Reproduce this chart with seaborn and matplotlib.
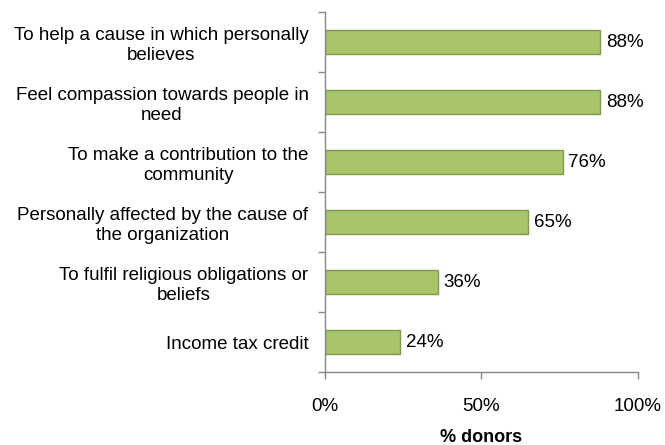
import matplotlib
matplotlib.use("Agg")
import matplotlib.pyplot as plt
import seaborn as sns
import pandas as pd
import numpy as np
from matplotlib.ticker import FixedLocator

categories = [
    "To help a cause in which personally\nbelieves",
    "Feel compassion towards people in\nneed",
    "To make a contribution to the\ncommunity",
    "Personally affected by the cause of\nthe organization",
    "To fulfil religious obligations or\nbeliefs",
    "Income tax credit",
]
values = [88, 88, 76, 65, 36, 24]
xticks = [0, 50, 100]
xtick_labels = ["0%", "50%", "100%"]

sns.set_style("white")
plt.rcParams['font.family'] = ['Liberation Sans', 'DejaVu Sans']
plt.rcParams['text.color'] = 'black'
plt.rcParams['xtick.color'] = 'black'
plt.rcParams['ytick.color'] = 'black'
plt.rcParams['axes.labelcolor'] = 'black'

FS = 13.5

df = pd.DataFrame({"cat": categories, "val": values})

fig = plt.figure(figsize=(6.65, 4.45), dpi=100)
ax = fig.add_axes([0.489, 0.164, 0.470, 0.809])
sns.barplot(data=df, x="val", y="cat", orient="h", color="#A9C56C",
            edgecolor="#7D9C45", linewidth=1.0, width=0.4, saturation=1, ax=ax)

ax.set_xlim(0, 100)
ax.set_ylim(len(categories) - 0.5, -0.5)
ax.set_xticks(xticks)
ax.set_xticklabels(xtick_labels, fontsize=FS)
ax.set_xlabel("% donors", fontsize=FS - 0.5, fontweight="bold", labelpad=10)
ax.set_ylabel("")
ax.set_yticks(range(len(categories)))
ax.set_yticklabels(categories, fontsize=FS, ha="right", multialignment="center",
                   linespacing=1.25)
ax.tick_params(axis="y", which="major", length=0, pad=12)
ax.yaxis.set_minor_locator(FixedLocator(np.arange(-0.5, len(categories), 1.0)))
ax.tick_params(axis="y", which="minor", length=5, color="#888888", width=1, left=True)
ax.tick_params(axis="x", which="major", length=5, color="#888888", width=1, pad=14, bottom=True)

for s in ["top", "right"]:
    ax.spines[s].set_visible(False)
for s in ["left", "bottom"]:
    ax.spines[s].set_color("#888888")
    ax.spines[s].set_linewidth(1)

for i, v in enumerate(values):
    ax.text(v + 1.8, i, f"{v}%", va="center", ha="left", fontsize=FS)

fig.savefig("out.png", dpi=100)
